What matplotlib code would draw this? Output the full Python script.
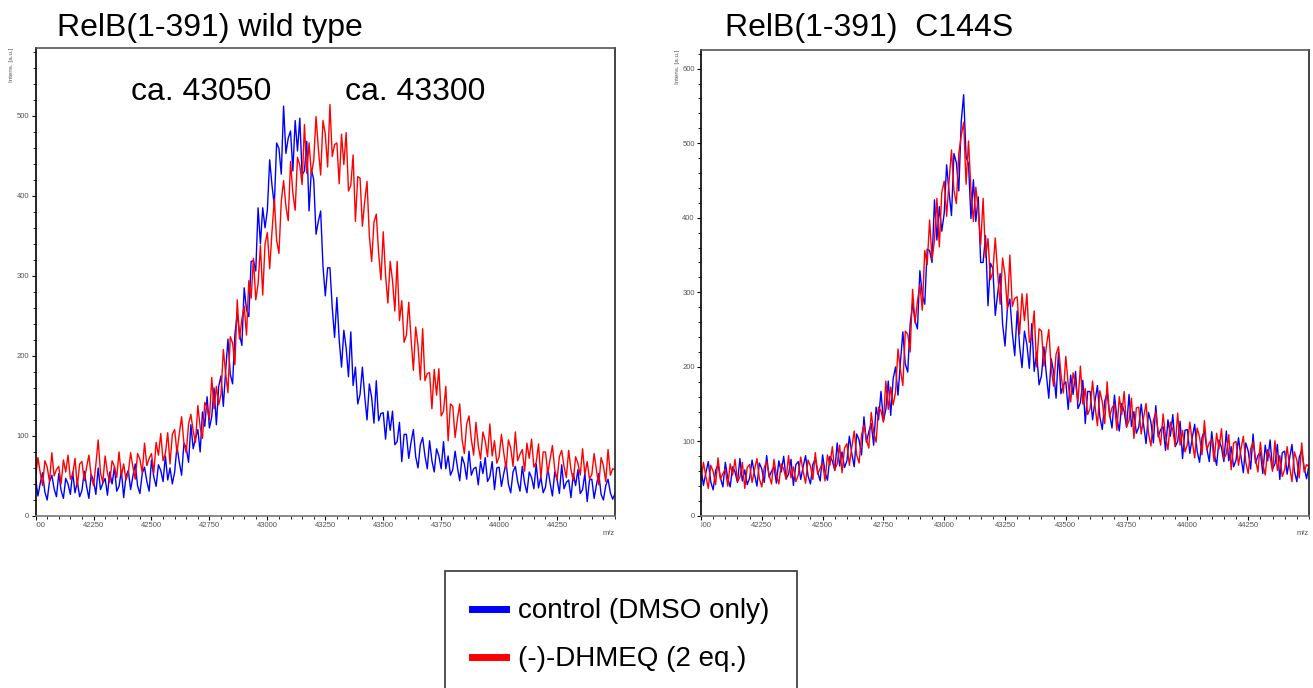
"""RelB(1-391) MALDI spectra: control vs (-)-DHMEQ"""
import numpy as np
import matplotlib.pyplot as plt
from matplotlib.lines import Line2D
from matplotlib.transforms import Bbox, TransformedBbox

plt.rcParams['font.family'] = ['Liberation Sans', 'DejaVu Sans']

# m/z grid start and step (Da), one value every 10 Da from 42000 to 44500
mz_start = 42000
mz_step = 10

# wild type, control (DMSO only)
wt_control = [47, 25, 41, 54, 30, 20, 43, 51, 34, 24,
              53, 32, 22, 47, 40, 27, 55, 29, 43, 24,
              32, 56, 37, 22, 52, 44, 27, 60, 33, 41,
              47, 26, 55, 40, 61, 31, 37, 57, 23, 50,
              57, 33, 50, 65, 38, 28, 53, 61, 43, 31,
              70, 49, 37, 64, 57, 43, 75, 45, 60, 40,
              55, 87, 67, 51, 91, 85, 67, 114, 84, 97,
              108, 80, 130, 112, 149, 110, 124, 160, 114, 162,
              175, 137, 181, 221, 177, 165, 227, 253, 227, 213,
              285, 258, 249, 318, 319, 306, 385, 340, 385, 360,
              382, 445, 413, 388, 466, 459, 427, 512, 453, 472,
              481, 431, 494, 456, 497, 426, 431, 468, 381, 433,
              420, 352, 368, 381, 312, 275, 310, 310, 260, 223,
              273, 220, 186, 232, 210, 174, 230, 163, 186, 140,
              152, 186, 150, 120, 165, 148, 116, 169, 119, 128,
              129, 96, 131, 107, 131, 89, 93, 117, 68, 102,
              102, 72, 92, 108, 74, 60, 89, 98, 75, 59,
              94, 69, 55, 84, 75, 59, 93, 59, 75, 51,
              58, 81, 61, 44, 74, 65, 46, 81, 51, 59,
              61, 39, 68, 53, 73, 43, 49, 68, 33, 60,
              61, 37, 53, 67, 40, 29, 55, 62, 43, 31,
              62, 41, 29, 55, 48, 34, 65, 35, 49, 29,
              36, 60, 41, 25, 55, 46, 28, 64, 34, 42,
              45, 23, 53, 38, 58, 28, 33, 53, 18, 45,
              46, 22, 39, 53, 27, 20, 38, 46, 29, 21,
              28]

# wild type, (-)-DHMEQ (2 eq.)
wt_dhmeq = [49, 73, 54, 38, 69, 61, 43, 79, 50, 58,
            62, 40, 70, 55, 76, 46, 52, 72, 37, 65,
            68, 44, 61, 76, 49, 38, 64, 95, 54, 42,
            75, 54, 42, 69, 62, 48, 80, 50, 65, 45,
            54, 79, 61, 46, 78, 71, 54, 91, 63, 72,
            78, 54, 92, 76, 103, 69, 78, 104, 65, 102,
            108, 79, 103, 124, 91, 79, 115, 127, 106, 92,
            138, 111, 97, 142, 136, 120, 173, 134, 162, 139,
            152, 208, 178, 154, 224, 216, 189, 270, 221, 246,
            262, 226, 294, 272, 322, 270, 290, 338, 276, 340,
            354, 309, 355, 396, 344, 328, 393, 419, 387, 369,
            443, 403, 382, 448, 438, 414, 489, 428, 466, 427,
            444, 499, 459, 426, 494, 477, 436, 514, 449, 464,
            466, 415, 477, 439, 479, 406, 413, 451, 368, 424,
            422, 362, 393, 418, 350, 318, 367, 377, 329, 295,
            355, 301, 266, 318, 294, 256, 318, 244, 269, 217,
            226, 267, 222, 182, 236, 213, 170, 234, 169, 178,
            179, 134, 183, 151, 184, 125, 131, 162, 94, 140,
            137, 98, 121, 140, 96, 78, 115, 125, 96, 76,
            117, 88, 71, 105, 94, 74, 115, 75, 94, 66,
            74, 102, 79, 59, 95, 85, 62, 105, 69, 77,
            83, 56, 91, 72, 96, 61, 67, 90, 47, 80,
            80, 53, 71, 88, 58, 45, 74, 82, 62, 48,
            82, 58, 44, 74, 66, 51, 84, 52, 68, 46,
            52, 78, 57, 39, 73, 63, 43, 83, 51, 59,
            58]

# C144S, control (DMSO only)
cs_control = [65, 41, 58, 73, 46, 35, 61, 69, 51, 39,
              72, 51, 39, 66, 59, 45, 77, 47, 62, 42,
              51, 75, 56, 40, 71, 63, 45, 81, 52, 60,
              66, 44, 74, 59, 80, 50, 56, 76, 41, 69,
              73, 49, 66, 81, 54, 43, 69, 77, 59, 47,
              82, 59, 48, 80, 74, 61, 98, 67, 86, 65,
              74, 107, 84, 66, 110, 102, 82, 133, 99, 113,
              124, 95, 146, 129, 167, 127, 143, 181, 135, 184,
              200, 162, 206, 247, 204, 193, 257, 285, 262, 251,
              329, 297, 284, 358, 356, 340, 424, 370, 415, 382,
              406, 471, 434, 403, 486, 474, 436, 529, 565, 482,
              472, 399, 451, 395, 428, 340, 340, 376, 282, 339,
              332, 269, 299, 325, 258, 228, 279, 291, 246, 215,
              275, 228, 199, 248, 230, 198, 258, 194, 220, 176,
              188, 227, 190, 158, 211, 193, 158, 220, 164, 176,
              180, 143, 189, 163, 194, 144, 152, 182, 124, 167,
              167, 129, 154, 175, 133, 116, 154, 165, 137, 118,
              162, 132, 114, 151, 140, 119, 163, 120, 140, 111,
              119, 150, 122, 97, 139, 126, 98, 148, 106, 116,
              120, 88, 129, 107, 136, 93, 100, 127, 77, 115,
              116, 84, 105, 123, 87, 72, 105, 114, 90, 73,
              113, 84, 68, 102, 92, 73, 114, 74, 93, 66,
              75, 105, 80, 58, 98, 87, 63, 110, 71, 81,
              86, 57, 95, 74, 102, 63, 70, 96, 49, 85,
              87, 56, 77, 96, 60, 46, 79, 88, 65, 50,
              68]

# C144S, (-)-DHMEQ (2 eq.)
cs_dhmeq = [48, 72, 53, 37, 68, 60, 42, 78, 49, 57,
            62, 40, 70, 55, 76, 46, 52, 72, 37, 65,
            69, 45, 62, 77, 50, 39, 65, 73, 55, 43,
            76, 55, 43, 70, 63, 49, 81, 51, 66, 46,
            55, 79, 60, 44, 75, 67, 49, 85, 56, 64,
            71, 47, 82, 68, 93, 62, 70, 95, 58, 91,
            97, 68, 92, 114, 82, 71, 108, 122, 103, 91,
            139, 112, 99, 146, 141, 126, 181, 143, 173, 149,
            166, 224, 196, 175, 248, 244, 220, 304, 259, 288,
            310, 276, 356, 337, 397, 344, 370, 426, 361, 434,
            449, 402, 449, 491, 437, 419, 486, 510, 528, 445,
            503, 438, 395, 441, 410, 364, 426, 347, 372, 317,
            327, 373, 325, 284, 346, 323, 277, 350, 281, 292,
            294, 244, 298, 262, 298, 233, 240, 275, 200, 251,
            248, 201, 227, 250, 198, 174, 217, 227, 191, 165,
            214, 176, 153, 192, 178, 153, 201, 150, 171, 136,
            144, 181, 148, 121, 168, 153, 124, 180, 133, 145,
            150, 115, 160, 136, 167, 120, 128, 158, 104, 145,
            146, 110, 132, 151, 111, 94, 128, 139, 112, 95,
            137, 107, 89, 126, 115, 94, 138, 95, 115, 86,
            96, 126, 100, 78, 118, 106, 82, 128, 89, 98,
            103, 73, 111, 90, 117, 77, 83, 109, 62, 98,
            100, 68, 89, 107, 72, 57, 90, 99, 76, 59,
            99, 70, 55, 89, 79, 60, 101, 61, 81, 53,
            62, 93, 67, 46, 86, 75, 51, 98, 59, 69,
            66]

x_ticks = [42000, 42250, 42500, 42750, 43000, 43250, 43500, 43750, 44000, 44250]
blue = '#0000ff'
red = '#ff0000'


def mz(values):
    return mz_start + mz_step * np.arange(len(values))


def style_axes(ax, ymax, ytop):
    ax.set_xlim(42000, 44500)
    ax.set_ylim(0, ytop)
    ax.set_xticks(x_ticks)
    ax.set_xticklabels([str(t) for t in x_ticks])
    ax.set_xticks(np.arange(42000, 44501, 50), minor=True)
    ax.set_yticks(np.arange(0, ymax + 1, 100))
    ax.set_yticks(np.arange(0, ytop, 20), minor=True)
    ax.tick_params(which='both', labelsize=5.5, labelcolor='#555555',
                   direction='out', pad=1.5)
    ax.tick_params(which='major', length=3, width=0.8)
    ax.tick_params(which='minor', length=2, width=0.6)
    ax.spines['left'].set_color('black')
    ax.spines['right'].set_color('#222222')
    ax.spines['top'].set_color('#555555')
    ax.spines['bottom'].set_color('#777777')
    for s in ax.spines.values():
        s.set_linewidth(1.2)
    # 第一个x刻度标签被图框裁掉一半
    lab = ax.get_xticklabels()[0]
    lab.set_clip_box(TransformedBbox(Bbox([[0, -1], [1, 1]]), ax.transAxes))
    lab.set_clip_on(True)
    ax.text(1.0, -0.03, 'm/z', transform=ax.transAxes, fontsize=5.5,
            color='#555555', ha='right', va='top')


fig = plt.figure(figsize=(13.13, 6.88), dpi=100)

# 左图: wild type
ax1 = fig.add_axes([35.6 / 1313, 1 - 516 / 688, (615 - 35.6) / 1313, (516 - 47.7) / 688])
ax1.plot(mz(wt_control), wt_control, color=blue, lw=1.0)
ax1.plot(mz(wt_dhmeq), wt_dhmeq, color=red, lw=1.0)
style_axes(ax1, 500, 585)
fig.text(57 / 1313, 1 - 28 / 688, 'RelB(1-391) wild type', fontsize=23, va='center')
fig.text(201 / 1313, 1 - 92 / 688, 'ca. 43050', fontsize=23, ha='center', va='center')
fig.text(415 / 1313, 1 - 92 / 688, 'ca. 43300', fontsize=23, ha='center', va='center')
fig.text(12 / 1313, 1 - 48 / 688, 'Intens. [a.u.]', fontsize=4.5, color='#555555',
         rotation=90, ha='center', va='top')

# 右图: C144S
ax2 = fig.add_axes([701 / 1313, 1 - 516 / 688, (1309 - 701) / 1313, (516 - 50) / 688])
ax2.plot(mz(cs_control), cs_control, color=blue, lw=1.0)
ax2.plot(mz(cs_dhmeq), cs_dhmeq, color=red, lw=1.0)
style_axes(ax2, 600, 625)
fig.text(725 / 1313, 1 - 28 / 688, 'RelB(1-391)  C144S', fontsize=23, va='center')
fig.text(677 / 1313, 1 - 50 / 688, 'Intens. [a.u.]', fontsize=4.5, color='#555555',
         rotation=90, ha='center', va='top')

# 图例
handles = [Line2D([], [], color=blue, lw=5), Line2D([], [], color=red, lw=5)]
leg = fig.legend(handles, ['control (DMSO only)', '(-)-DHMEQ (2 eq.)'],
                 loc='upper left', bbox_to_anchor=(445 / 1313, 1 - 571 / 688),
                 fontsize=20, frameon=True, fancybox=False, borderpad=0.98,
                 handlelength=1.2, handletextpad=0.45, labelspacing=0.8,
                 borderaxespad=0)
leg.get_frame().set_edgecolor('black')
leg.get_frame().set_linewidth(1.2)

fig.savefig('out.png', dpi=100)
